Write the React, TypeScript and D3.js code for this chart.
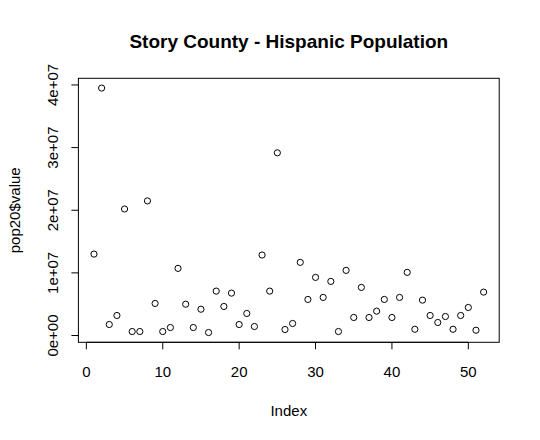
import * as d3 from "d3";

// pop20$value (index 1..52)
const values: number[] = [
  1.30e7, 3.95e7, 0.176e7, 0.32e7, 2.02e7, 0.064e7, 0.064e7, 2.149e7, 0.512e7, 0.064e7,
  0.128e7, 1.072e7, 0.50e7, 0.128e7, 0.42e7, 0.048e7, 0.709e7, 0.464e7, 0.677e7, 0.176e7,
  0.352e7, 0.144e7, 1.285e7, 0.709e7, 2.917e7, 0.096e7, 0.192e7, 1.168e7, 0.576e7, 0.928e7,
  0.608e7, 0.864e7, 0.064e7, 1.04e7, 0.288e7, 0.768e7, 0.288e7, 0.389e7, 0.576e7, 0.288e7,
  0.608e7, 1.008e7, 0.10e7, 0.565e7, 0.32e7, 0.208e7, 0.304e7, 0.10e7, 0.32e7, 0.448e7,
  0.085e7, 0.693e7,
];
const xTicks: number[] = [0, 10, 20, 30, 40, 50];
const yTicks: number[] = [0, 1e7, 2e7, 3e7, 4e7];
const yTickLabels: string[] = ["0e+00", "1e+07", "2e+07", "3e+07", "4e+07"];

const W = 540;
const H = 440;
const FONT = "Arial, 'Liberation Sans', sans-serif";

// R style 4% range extension
function pad(ext: [number, number]): [number, number] {
  const r = ext[1] - ext[0];
  return [ext[0] - 0.04 * r, ext[1] + 0.04 * r];
}

export default function App() {
  const m = { left: 78.4, right: 499.2, top: 78.3, bottom: 342.3 };
  const idx = values.map((_, i) => i + 1);
  const x = d3.scaleLinear().domain(pad(d3.extent(idx) as [number, number])).range([m.left, m.right]);
  const y = d3.scaleLinear().domain(pad(d3.extent(values) as [number, number])).range([m.bottom, m.top]);
  const midX = (m.left + m.right) / 2;
  const midY = (m.top + m.bottom) / 2;

  return (
    <svg width={W} height={H} style={{ position: "fixed", left: 0, top: 0, background: "#fff" }}
      fontFamily={FONT}>
      <rect x={0} y={0} width={W} height={H} fill="#fff" />
      <text x={midX} y={48} textAnchor="middle" fontSize={19} fontWeight="bold">
        Story County - Hispanic Population
      </text>

      {/* box */}
      <rect x={m.left} y={m.top} width={m.right - m.left} height={m.bottom - m.top}
        fill="none" stroke="#000" strokeWidth={1} />

      {/* x axis */}
      <line x1={x(xTicks[0])} x2={x(xTicks[xTicks.length - 1])} y1={m.bottom} y2={m.bottom} stroke="#000" />
      {xTicks.map(t => (
        <g key={t}>
          <line x1={x(t)} x2={x(t)} y1={m.bottom} y2={m.bottom + 7} stroke="#000" />
          <text x={x(t)} y={m.bottom + 35} textAnchor="middle" fontSize={15}>{t}</text>
        </g>
      ))}
      <text x={midX} y={416} textAnchor="middle" fontSize={15}>Index</text>

      {/* y axis */}
      {yTicks.map((t, i) => (
        <g key={t}>
          <line x1={m.left - 7} x2={m.left} y1={y(t)} y2={y(t)} stroke="#000" />
          <text transform={`translate(${57.5},${y(t)}) rotate(-90)`} textAnchor="middle" fontSize={15}>
            {yTickLabels[i]}
          </text>
        </g>
      ))}
      <text transform={`translate(${20},${midY}) rotate(-90)`} textAnchor="middle" fontSize={15}>
        pop20$value
      </text>

      {/* points */}
      {values.map((v, i) => (
        <circle key={i} cx={x(i + 1)} cy={y(v)} r={3.1} fill="none" stroke="#000" strokeWidth={1} />
      ))}
    </svg>
  );
}
